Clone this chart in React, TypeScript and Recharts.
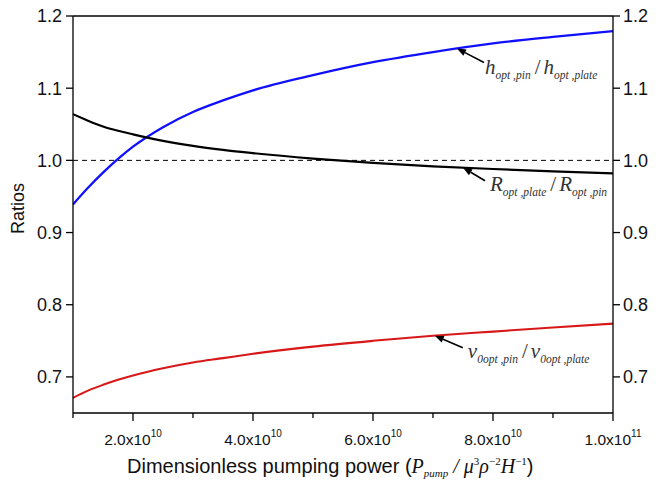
import React from "react";
import { LineChart, Line, XAxis, YAxis, ReferenceLine, ReferenceDot } from "recharts";

const pumpingPower = [1e10, 1.25e10, 1.5e10, 1.75e10, 2e10, 2.5e10, 3e10, 3.5e10, 4e10, 5e10, 6e10, 7e10, 8e10, 9e10, 1e11];
const hRatio = [0.939, 0.962, 0.983, 1.002, 1.019, 1.046, 1.067, 1.083, 1.097, 1.118, 1.136, 1.15, 1.162, 1.171, 1.179];
const rRatio = [1.064, 1.055, 1.047, 1.041, 1.036, 1.027, 1.02, 1.0145, 1.01, 1.0025, 0.9965, 0.9918, 0.988, 0.9848, 0.982];
const vRatio = [0.671, 0.681, 0.689, 0.696, 0.702, 0.712, 0.72, 0.726, 0.732, 0.742, 0.75, 0.757, 0.7628, 0.7685, 0.7738];

const xTicks = [1e10, 2e10, 3e10, 4e10, 5e10, 6e10, 7e10, 8e10, 9e10, 1e11];
const xMajorLabels: Record<number, [string, string]> = {
  20000000000: ["2.0x10", "10"],
  40000000000: ["4.0x10", "10"],
  60000000000: ["6.0x10", "10"],
  80000000000: ["8.0x10", "10"],
  100000000000: ["1.0x10", "11"],
};
const yTicks = [0.7, 0.8, 0.9, 1.0, 1.1, 1.2];

const data = pumpingPower.map((p, i) => ({ P: p, h: hRatio[i], R: rRatio[i], v: vRatio[i] }));

const SANS = "'Liberation Sans', Arial, sans-serif";
const SERIF = "'Liberation Serif', 'Times New Roman', serif";

const XTick = (props: any) => {
  const { x, y, payload } = props;
  const lbl = xMajorLabels[payload.value];
  const len = lbl ? 8 : 5;
  return (
    <g>
      <line x1={x} y1={y} x2={x} y2={y + len} stroke="#000" strokeWidth={1.3} />
      {lbl && (
        <text x={x} y={y + 32} textAnchor="middle" fontFamily={SANS} fontSize={15.5} fill="#111">
          <tspan>{lbl[0]}</tspan>
          <tspan fontSize={10} dy={-8}>{lbl[1]}</tspan>
        </text>
      )}
    </g>
  );
};

const XLabel = (props: any) => {
  const vb = props.viewBox || { x: 73, y: 413, width: 540, height: 79 };
  return (
    <text x={vb.x + 54} y={vb.y + 60} fontFamily={SANS} fontSize={20} fill="#111">
      <tspan>Dimensionless pumping power (</tspan>
      <tspan fontFamily={SERIF} fontStyle="italic" fontSize={20}>P</tspan>
      <tspan fontFamily={SERIF} fontStyle="italic" fontSize={11} dy={4}>pump</tspan>
      <tspan fontFamily={SERIF} fontStyle="italic" fontSize={20} dy={-4}> / μ</tspan>
      <tspan fontFamily={SERIF} fontSize={11} dy={-8}>3</tspan>
      <tspan fontFamily={SERIF} fontStyle="italic" fontSize={20} dy={8}>ρ</tspan>
      <tspan fontFamily={SERIF} fontSize={11} dy={-8}>−2</tspan>
      <tspan fontFamily={SERIF} fontStyle="italic" fontSize={20} dy={8}>H</tspan>
      <tspan fontFamily={SERIF} fontSize={11} dy={-8}>−1</tspan>
      <tspan dy={8}>)</tspan>
    </text>
  );
};

const YLabel = (props: any) => {
  const vb = props.viewBox || { x: 0, y: 16, width: 73, height: 397 };
  const cx = 24;
  const cy = vb.y + vb.height / 2 - 6;
  return (
    <text x={cx} y={cy} transform={`rotate(-90 ${cx} ${cy})`} textAnchor="middle" fontFamily={SANS} fontSize={18} fill="#111">
      Ratios
    </text>
  );
};

type Ann = { tail: [number, number]; text: [number, number]; a: string; aSub: string; b: string; bSub: string };

const makeAnnotation = (ann: Ann) => (props: any) => {
  const { cx, cy } = props;
  if (cx == null || cy == null) return null;
  const tx = cx + ann.tail[0];
  const ty = cy + ann.tail[1];
  const dx = cx - tx;
  const dy = cy - ty;
  const L = Math.sqrt(dx * dx + dy * dy);
  const ux = dx / L;
  const uy = dy / L;
  const headLen = 9;
  const headW = 3.5;
  const bx = cx - ux * headLen;
  const by = cy - uy * headLen;
  const p1 = `${cx},${cy} ${bx - uy * headW},${by + ux * headW} ${bx + uy * headW},${by - ux * headW}`;
  return (
    <g>
      <line x1={tx} y1={ty} x2={bx} y2={by} stroke="#000" strokeWidth={1.6} />
      <polygon points={p1} fill="#000" />
      <text x={cx + ann.text[0]} y={cy + ann.text[1]} fontFamily={SERIF} fontStyle="italic" fill="#333">
        <tspan fontSize={21}>{ann.a}</tspan>
        <tspan fontSize={11.5} dy={5}>{ann.aSub}</tspan>
        <tspan fontSize={21} dy={-5} dx={4} fontStyle="normal">/</tspan>
        <tspan fontSize={21} dx={3}>{ann.b}</tspan>
        <tspan fontSize={11.5} dy={5}>{ann.bSub}</tspan>
      </text>
    </g>
  );
};

const hAnn = makeAnnotation({ tail: [27, 14], text: [28, 26], a: "h", aSub: "opt ,pin", b: "h", bSub: "opt ,plate" });
const rAnn = makeAnnotation({ tail: [22, 13], text: [27, 23], a: "R", aSub: "opt ,plate", b: "R", bSub: "opt ,pin" });
const vAnn = makeAnnotation({ tail: [28, 12], text: [33, 22], a: "v", aSub: "0opt ,pin", b: "v", bSub: "0opt ,plate" });

export default function App() {
  return (
    <div style={{ position: "absolute", left: 0, top: 0, width: 656, height: 492, background: "#fff" }}>
      <LineChart width={656} height={492} data={data} margin={{ top: 16, right: 0, bottom: 0, left: 0 }}>
        <XAxis
          dataKey="P"
          type="number"
          domain={[1e10, 1e11]}
          ticks={xTicks}
          interval={0}
          allowDataOverflow
          height={79}
          tickSize={0}
          tickMargin={0}
          tickLine={false}
          axisLine={{ stroke: "#000", strokeWidth: 1.3 }}
          tick={<XTick />}
          label={<XLabel />}
        />
        <YAxis
          yAxisId="left"
          domain={[0.65, 1.2]}
          ticks={yTicks}
          interval={0}
          allowDataOverflow
          width={73}
          tickSize={7}
          tickMargin={4}
          tickFormatter={(v: number) => v.toFixed(1)}
          tick={{ fontFamily: SANS, fontSize: 18, fill: "#111" }}
          tickLine={{ stroke: "#000", strokeWidth: 1.3 }}
          axisLine={{ stroke: "#000", strokeWidth: 1.3 }}
          label={<YLabel />}
        />
        <YAxis
          yAxisId="right"
          orientation="right"
          domain={[0.65, 1.2]}
          ticks={yTicks}
          interval={0}
          allowDataOverflow
          width={43}
          tickSize={7}
          tickMargin={3}
          tickFormatter={(v: number) => v.toFixed(1)}
          tick={{ fontFamily: SANS, fontSize: 18, fill: "#111" }}
          tickLine={{ stroke: "#000", strokeWidth: 1.3 }}
          axisLine={{ stroke: "#000", strokeWidth: 1.3 }}
        />
        <ReferenceLine yAxisId="left" y={1.2} stroke="#000" strokeWidth={1.3} />
        <ReferenceLine yAxisId="left" y={1.0} stroke="#000" strokeWidth={1} strokeDasharray="5 4" />
        <Line yAxisId="left" type="monotone" dataKey="h" stroke="#1010ff" strokeWidth={2.3} dot={false} isAnimationActive={false} />
        <Line yAxisId="left" type="monotone" dataKey="R" stroke="#000" strokeWidth={2.2} dot={false} isAnimationActive={false} />
        <Line yAxisId="left" type="monotone" dataKey="v" stroke="#d81818" strokeWidth={2.1} dot={false} isAnimationActive={false} />
        <ReferenceDot yAxisId="left" x={7.4e10} y={1.155} r={0} ifOverflow="visible" shape={hAnn} />
        <ReferenceDot yAxisId="left" x={7.5e10} y={0.9898} r={0} ifOverflow="visible" shape={rAnn} />
        <ReferenceDot yAxisId="left" x={7.03e10} y={0.757} r={0} ifOverflow="visible" shape={vAnn} />
      </LineChart>
    </div>
  );
}
